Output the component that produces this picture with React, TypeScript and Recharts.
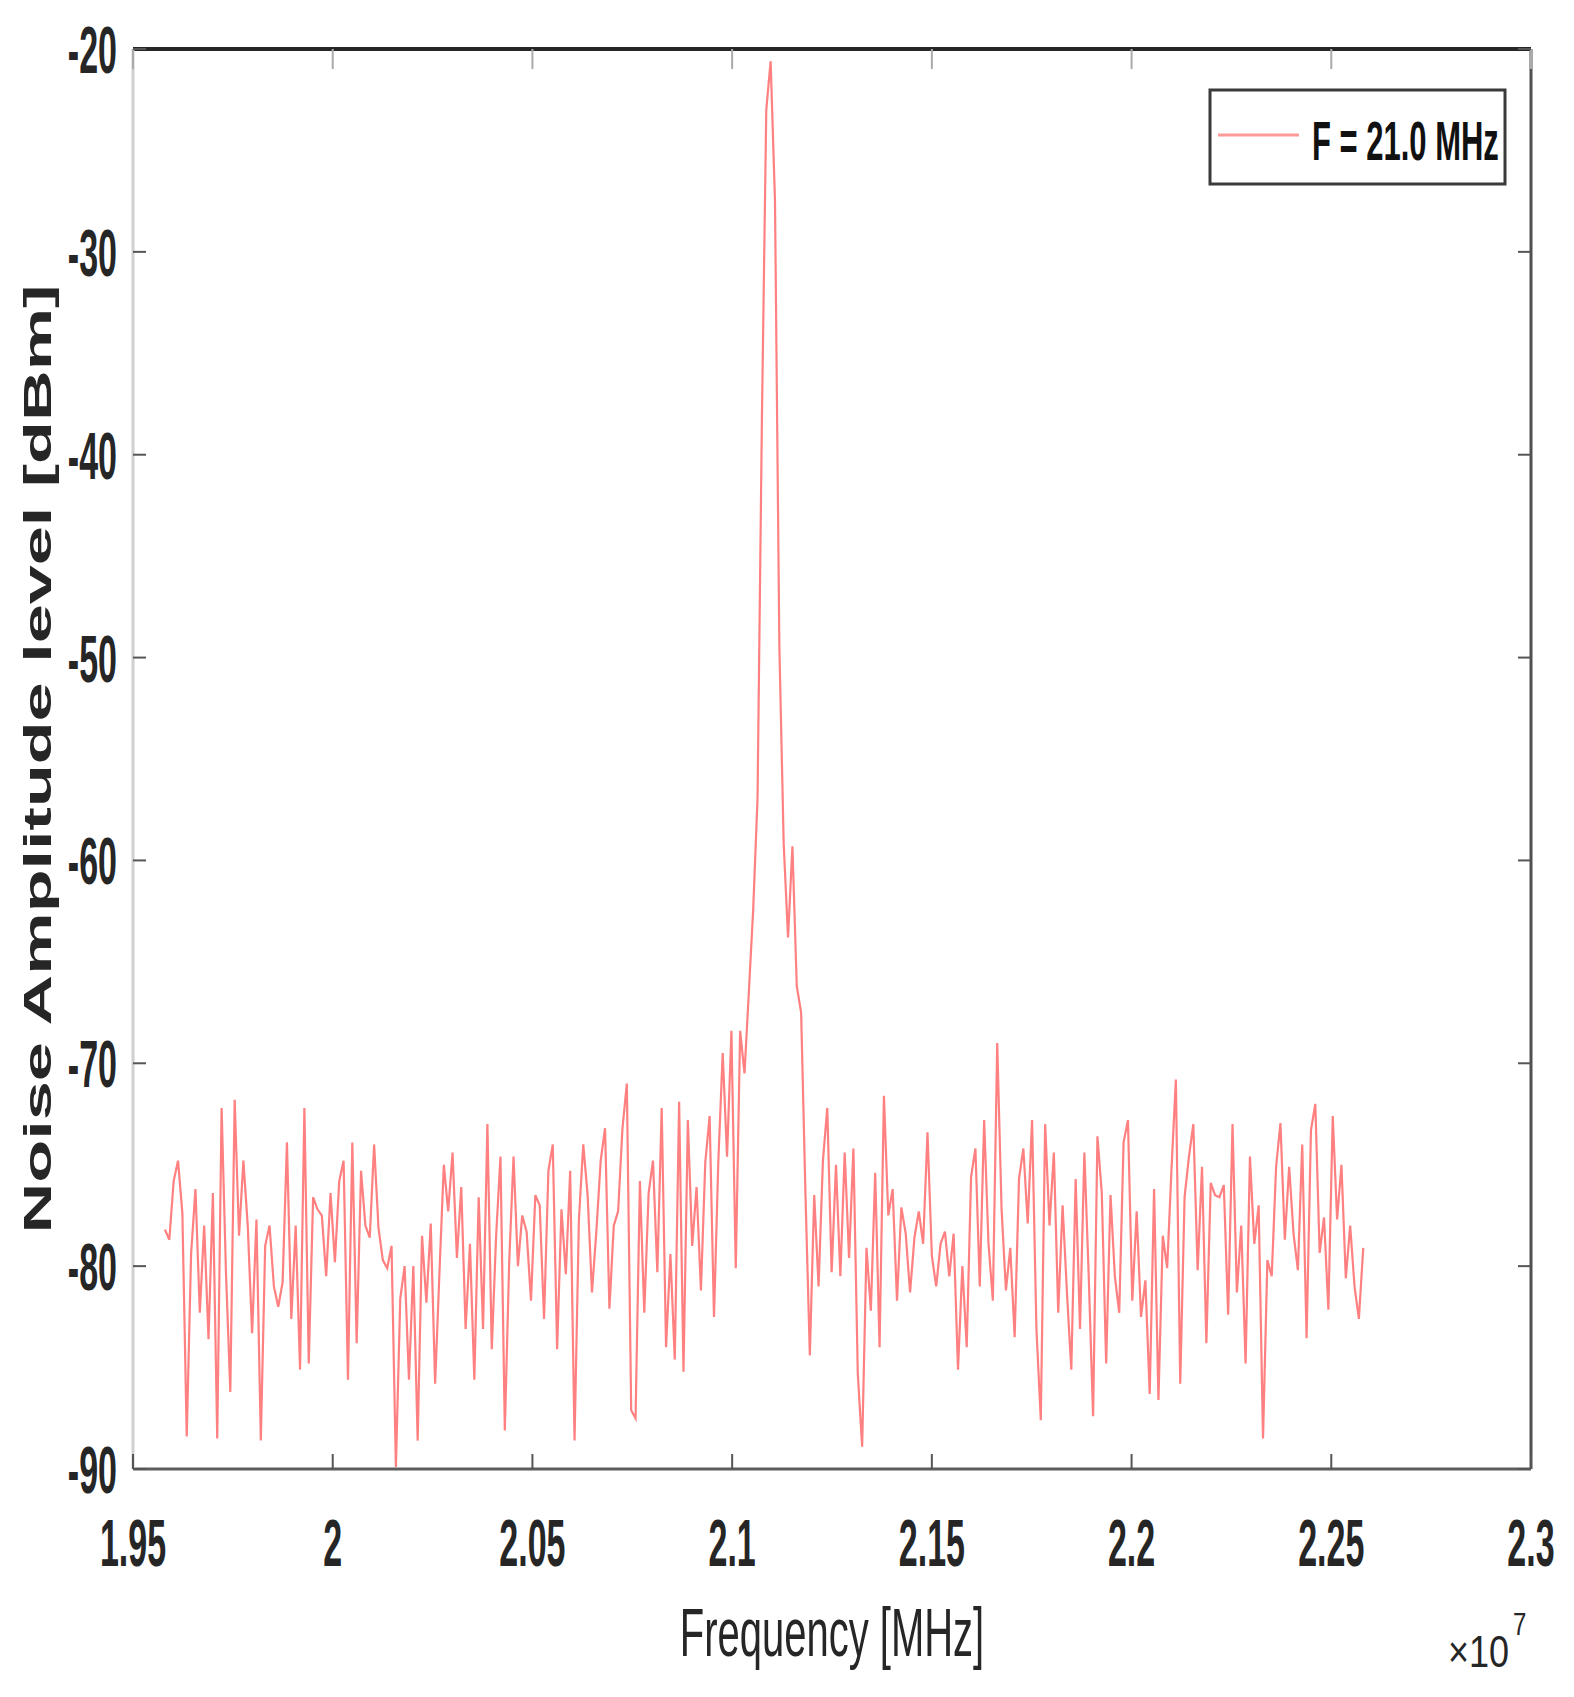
import React from 'react';
import { LineChart, Line, XAxis, YAxis, ReferenceLine } from 'recharts';

// Spectrum readings (dBm), evenly sampled between FREQ_START_HZ and FREQ_END_HZ
const AMPLITUDE_DBM = [
  -78.2, -78.7, -75.8, -74.8, -77.4, -88.4, -79.4, -76.2, -82.3, -78.0,
  -83.6, -76.4, -88.5, -72.2, -80.3, -86.2, -71.8, -78.5, -74.8, -78.0,
  -83.3, -77.7, -88.6, -79.0, -78.0, -81.0, -82.0, -80.8, -73.9, -82.6,
  -78.0, -85.1, -72.2, -84.8, -76.6, -77.2, -77.5, -80.5, -76.4, -79.8,
  -75.8, -74.8, -85.6, -73.9, -83.8, -75.3, -78.0, -78.6, -74.0, -78.1,
  -79.7, -80.1, -79.0, -89.9, -81.6, -80.0, -85.6, -80.0, -88.6, -78.5,
  -81.8, -77.9, -85.8, -80.3, -75.0, -77.3, -74.4, -79.6, -76.1, -83.1,
  -78.9, -85.6,
  -76.6, -83.1, -73.0, -84.1, -78.5, -74.6, -88.1, -79.8, -74.6, -80.0,
  -77.5, -78.3, -81.7, -76.5, -77.0, -82.6, -75.3, -74.0, -84.1, -77.2,
  -80.4, -75.3, -88.6, -77.7, -74.0, -76.5, -81.3, -78.3, -74.8, -73.2,
  -82.1, -78.0, -77.3, -73.2, -71.0, -87.1, -87.5, -75.8, -82.3, -76.4,
  -74.8, -80.3, -72.2, -84.0, -79.4, -84.6, -71.9, -85.2, -72.8, -79.0,
  -76.1, -81.2, -74.9, -72.6, -82.5, -74.8, -69.5, -74.6, -68.4, -80.1,
  -68.4, -70.5,
  -66.5, -62.4, -56.9, -38.2, -23.0, -20.6, -27.5, -49.4, -59.2, -63.8,
  -59.3, -66.2, -67.5, -76.5, -84.4,
  -76.5, -81.0, -74.8, -72.2, -80.3, -75.0, -80.5, -74.4, -79.6, -74.2,
  -85.3, -88.9, -79.1, -82.2, -75.4, -84.0, -71.6, -77.5, -76.2, -81.7,
  -77.1, -78.4, -81.3, -78.6, -77.3, -78.9, -73.4, -79.5, -81.0, -78.9,
  -78.3, -80.5, -78.4, -85.1, -80.0, -84.0, -75.6, -74.2, -81.0, -72.8,
  -78.9, -81.7, -69.0, -77.2, -81.2, -79.1, -83.5, -75.7, -74.2, -77.9,
  -72.8, -83.1, -87.6, -73.0, -78.0, -74.4, -82.3, -77.0, -81.3, -85.1,
  -75.7, -83.1, -74.4, -80.5,
  -87.4, -73.6, -76.4, -84.8, -76.5, -80.5, -82.3, -73.9, -72.8, -81.7,
  -77.3, -82.5, -80.7, -86.3, -76.2, -86.6, -78.5, -80.1, -75.2, -70.8,
  -85.8, -76.6, -74.6, -73.0, -80.2, -75.1, -83.8, -75.9, -76.5, -76.6,
  -76.0, -82.4, -73.0, -81.3, -78.0, -84.8, -74.6, -78.9, -77.0, -88.5,
  -79.7, -80.5, -75.1, -72.95, -78.7, -75.1, -78.4, -80.2, -74.0, -83.55,
  -73.3, -72.0, -79.35, -77.6, -82.15, -72.6, -77.7, -75.0, -80.6, -78.0,
  -81.0, -82.6, -79.1,
];
const FREQ_START_HZ = 19.58e6;
const FREQ_END_HZ = 22.58e6;

const X_TICKS = [19.5e6, 20e6, 20.5e6, 21e6, 21.5e6, 22e6, 22.5e6, 23e6];
const Y_TICKS = [-90, -80, -70, -60, -50, -40, -30, -20];

const SERIES_NAME = 'F = 21.0 MHz';
const LINE_COLOR = '#ff8080';

const W = 1574;
const H = 1697;
const PLOT_LEFT = 133;
const PLOT_TOP = 49;
const PLOT_RIGHT = 1531;
const PLOT_BOTTOM = 1469;
const FONT = 'Liberation Sans, Arial, sans-serif';

const step = (FREQ_END_HZ - FREQ_START_HZ) / (AMPLITUDE_DBM.length - 1);
const data = AMPLITUDE_DBM.map((amp, i) => ({ freq: FREQ_START_HZ + i * step, amp }));

const fmtX = (v: number) => String(parseFloat((v / 1e7).toFixed(2)));

const XTick = (props: any) => {
  const { x, y, payload } = props;
  return (
    <g>
      <line x1={x} y1={y} x2={x} y2={y - 15} stroke="#555" strokeWidth={2} />
      <line x1={x} y1={PLOT_TOP} x2={x} y2={PLOT_TOP + 20} stroke="#aaa" strokeWidth={2} />
      <g transform={`translate(${x} ${PLOT_BOTTOM + 97}) scale(1 1.95)`}>
        <text x={0} y={0} textAnchor="middle" fontFamily={FONT} fontWeight="bold" fontSize={34} fill="#262626">
          {fmtX(payload.value)}
        </text>
      </g>
    </g>
  );
};

const YTick = (props: any) => {
  const { x, y, payload } = props;
  return (
    <g>
      <line x1={x} y1={y} x2={x + 13} y2={y} stroke="#555" strokeWidth={2} />
      <line x1={PLOT_RIGHT} y1={y} x2={PLOT_RIGHT - 13} y2={y} stroke="#555" strokeWidth={2} />
      <g transform={`translate(${x - 16} ${y + 24}) scale(1 1.95)`}>
        <text x={0} y={0} textAnchor="end" fontFamily={FONT} fontWeight="bold" fontSize={34} fill="#262626">
          {payload.value}
        </text>
      </g>
    </g>
  );
};

export default function App() {
  return (
    <div style={{ position: 'absolute', left: 0, top: 0, width: W, height: H, background: '#fff' }}>
      <LineChart
        width={W}
        height={H}
        data={data}
        margin={{ top: PLOT_TOP, right: W - PLOT_RIGHT, bottom: 0, left: 0 }}
      >
        <XAxis
          dataKey="freq"
          type="number"
          domain={[X_TICKS[0], X_TICKS[X_TICKS.length - 1]]}
          ticks={X_TICKS}
          interval={0}
          allowDataOverflow
          height={H - PLOT_BOTTOM}
          tickSize={0}
          tickMargin={0}
          tickLine={false}
          axisLine={{ stroke: '#5c5c5c', strokeWidth: 3 }}
          tick={(p: any) => <XTick {...p} />}
        />
        <YAxis
          type="number"
          domain={[Y_TICKS[0], Y_TICKS[Y_TICKS.length - 1]]}
          ticks={Y_TICKS}
          interval={0}
          allowDataOverflow
          width={PLOT_LEFT}
          tickSize={0}
          tickMargin={0}
          tickLine={false}
          axisLine={{ stroke: '#d0d0d0', strokeWidth: 3 }}
          tick={(p: any) => <YTick {...p} />}
        />
        <ReferenceLine y={-20} stroke="#262626" strokeWidth={4} />
        <ReferenceLine x={23e6} stroke="#505050" strokeWidth={3} />
        <Line
          type="linear"
          dataKey="amp"
          name={SERIES_NAME}
          stroke={LINE_COLOR}
          strokeWidth={2.2}
          dot={false}
          isAnimationActive={false}
        />
      </LineChart>
      <svg
        width={W}
        height={H}
        style={{ position: 'absolute', left: 0, top: 0, pointerEvents: 'none' }}
      >
        <g transform={`translate(38 ${(PLOT_TOP + PLOT_BOTTOM) / 2}) rotate(-90) scale(1.8 1)`}>
          <text x={0} y={0} textAnchor="middle" dominantBaseline="central" fontFamily={FONT} fontWeight="bold" fontSize={39} fill="#262626">
            Noise Amplitude level [dBm]
          </text>
        </g>
        <g transform={`translate(${(PLOT_LEFT + PLOT_RIGHT) / 2} 1656) scale(1 1.7)`}>
          <text x={0} y={0} textAnchor="middle" fontFamily={FONT} fontSize={40} fill="#262626">
            Frequency [MHz]
          </text>
        </g>
        <g transform="translate(1448 1667) scale(1 1.25)">
          <text x={0} y={0} fontFamily={FONT} fontSize={36} fill="#262626">×10</text>
        </g>
        <g transform="translate(1513 1635) scale(1 1.3)">
          <text x={0} y={0} fontFamily={FONT} fontSize={24} fill="#262626">7</text>
        </g>
        <rect x={1210} y={90} width={295} height={94} fill="#fff" stroke="#3a3a3a" strokeWidth={3} />
        <line x1={1218} y1={135} x2={1299} y2={135} stroke="#ff9a9a" strokeWidth={3} />
        <g transform="translate(1312 160) scale(1 1.77)">
          <text x={0} y={0} fontFamily={FONT} fontWeight="bold" fontSize={31} fill="#111">
            {SERIES_NAME}
          </text>
        </g>
      </svg>
    </div>
  );
}
